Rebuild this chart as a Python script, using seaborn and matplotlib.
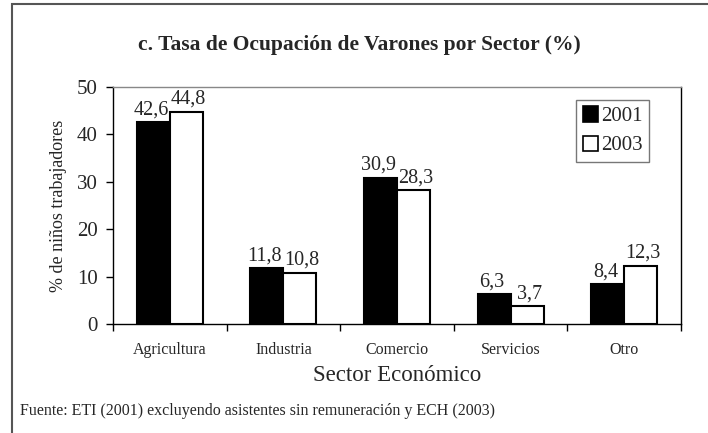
import matplotlib
matplotlib.use("Agg")
import matplotlib.pyplot as plt
import seaborn as sns
import pandas as pd
from matplotlib.patches import Rectangle

sectores = ["Agricultura", "Industria", "Comercio", "Servicios", "Otro"]
anios = ["2001", "2003"]
valores_2001 = [42.6, 11.8, 30.9, 6.3, 8.4]
valores_2003 = [44.8, 10.8, 28.3, 3.7, 12.3]
y_ticks = [0, 10, 20, 30, 40, 50]

df = pd.DataFrame({
    "Sector": sectores * 2,
    "Año": [anios[0]] * len(sectores) + [anios[1]] * len(sectores),
    "Valor": valores_2001 + valores_2003,
})

sns.set_style("white")
plt.rcParams["font.family"] = ["Liberation Serif", "DejaVu Serif"]

fig = plt.figure(figsize=(7.08, 4.33), dpi=100)
ax = fig.add_axes([0.1596, 0.2517, 0.8023, 0.5474])

sns.barplot(data=df, x="Sector", y="Valor", hue="Año", order=sectores,
            hue_order=anios, palette=["black", "white"], width=0.58,
            edgecolor="black", linewidth=1.5, ax=ax, errorbar=None,
            saturation=1)

for cont, dx in zip(ax.containers, [-1.5, 1.5]):
    labels = [f"{v:.1f}".replace(".", ",") for v in cont.datavalues]
    anns = ax.bar_label(cont, labels=labels, padding=2, fontsize=14.5)
    for a in anns:
        a.xyann = (dx, 2)

ax.set_ylim(0, 50)
ax.set_xlim(-0.5, 4.5)
ax.set_yticks(y_ticks)
ax.set_yticklabels([str(t) for t in y_ticks], fontsize=15)
ax.tick_params(axis="y", direction="out", length=5, width=1, color="black", pad=6, left=True)
ax.set_xticks(range(len(sectores)))
ax.set_xticklabels(sectores, fontsize=11.5)
ax.tick_params(axis="x", which="major", length=0, pad=13)
ax.set_xticks([i - 0.5 for i in range(len(sectores) + 1)], minor=True)
ax.tick_params(axis="x", which="minor", direction="out", length=5, width=1, color="black", bottom=True)

ax.set_xlabel("Sector Económico", fontsize=16.5, labelpad=5)
ax.set_ylabel("% de niños trabajadores", fontsize=13, labelpad=7)

for side in ["left", "bottom", "right"]:
    ax.spines[side].set_color("black")
    ax.spines[side].set_linewidth(1)
ax.spines["top"].set_color("#888888")
ax.spines["top"].set_linewidth(1)

leg = ax.legend(loc="upper right", bbox_to_anchor=(0.944, 0.945), fontsize=15,
                frameon=True, fancybox=False, handlelength=0.75, handleheight=0.75,
                handletextpad=0.15, borderpad=0.3, labelspacing=0.45,
                borderaxespad=0)
leg.get_frame().set_edgecolor("#555555")
leg.get_frame().set_linewidth(1)
for h in leg.legend_handles:
    h.set_edgecolor("black")
    h.set_linewidth(1.2)

fig.text(0.508, 0.896, "c. Tasa de Ocupación de Varones por Sector (%)",
         ha="center", va="center", fontsize=15.5, fontweight="bold")
fig.text(0.028, 0.051, "Fuente: ETI (2001) excluyendo asistentes sin remuneración y ECH (2003)",
         ha="left", va="center", fontsize=11.5)

frame = Rectangle((12 / 708, -0.1), 1.2, 1 - 4 / 433 + 0.1, transform=fig.transFigure,
                  fill=False, edgecolor="#555555", linewidth=1.5, clip_on=False)
fig.add_artist(frame)

fig.savefig("out.png", dpi=100)
